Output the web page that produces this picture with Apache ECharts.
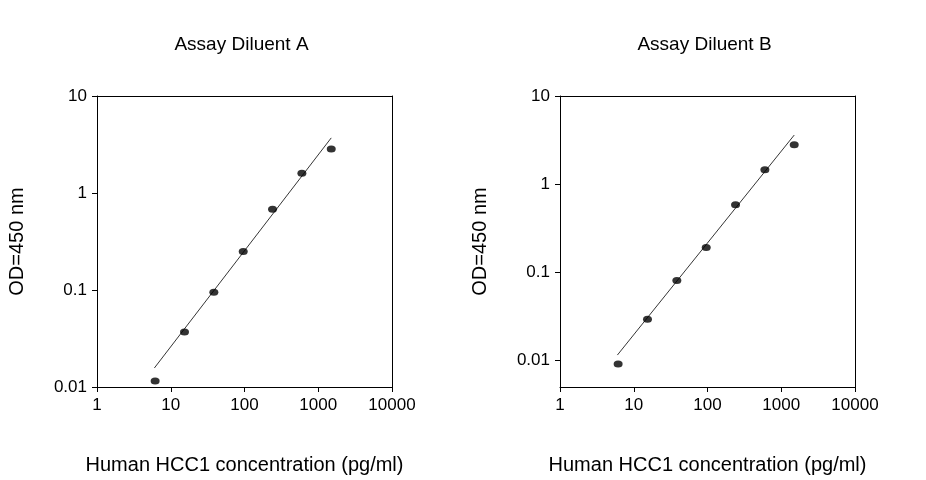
<!DOCTYPE html>
<html><head><meta charset="utf-8">
<script src="https://cdn.jsdelivr.net/npm/echarts@6/dist/echarts.min.js"></script>
<style>body{margin:0;background:#fff}#c{width:926px;height:480px}</style>
</head><body><div id="c"></div>
<script>
// concentrations (pg/ml)
const conc = [6.14, 15.36, 38.4, 96, 240, 600, 1500]
const odA = [0.0115, 0.037, 0.095, 0.25, 0.68, 1.6, 2.85]
const odB = [0.009, 0.029, 0.08, 0.19, 0.58, 1.45, 2.8]
// fitted line end points
const fitA = [[6, 0.0157], [1500, 3.7]]
const fitB = [[6, 0.0114], [1500, 3.6]]
const titles = ['Assay Diluent A', 'Assay Diluent B']
const xTicks = [1, 10, 100, 1000, 10000]
const yTicks = [0.01, 0.1, 1, 10]

const font = 'Liberation Sans, Arial, sans-serif'
const L = Math.log10
const grids = [
  { left: 97, top: 96, width: 295, height: 292 },
  { left: 560, top: 96, width: 295, height: 292 }
]
// y ranges in log10 (right panel's axis extends below 0.01)
const yMin = [-2, -2.306]
const axisLine = { show: true, onZero: false, lineStyle: { color: '#000', width: 1 } }
const lab = { color: '#000', fontSize: 17, fontFamily: font, margin: 10 }
const nameStyle = { color: '#000', fontSize: 20, fontFamily: font }
const xAxis = grids.map((g, i) => ({
  type: 'value', gridIndex: i, min: 0, max: 4,
  axisLine, axisTick: { show: true, length: 5, lineStyle: { color: '#000' }, customValues: xTicks.map(L) },
  splitLine: { show: false },
  axisLabel: Object.assign({}, lab, { customValues: xTicks.map(L), formatter: v => String(Math.round(Math.pow(10, v))) }),
  name: 'Human HCC1 concentration (pg/ml)', nameLocation: 'middle', nameGap: 68, nameTextStyle: nameStyle
}))
const yAxis = grids.map((g, i) => ({
  type: 'value', gridIndex: i, min: yMin[i], max: 1,
  axisLine, axisTick: { show: true, length: 5, lineStyle: { color: '#000' }, customValues: yTicks.map(L) },
  splitLine: { show: false },
  axisLabel: Object.assign({}, lab, { customValues: yTicks.map(L), formatter: v => String(+Math.pow(10, v).toPrecision(2)) }),
  name: 'OD=450 nm', nameLocation: 'middle', nameGap: 70, nameTextStyle: nameStyle
}))
// frame (top/right)
grids.forEach((g, i) => {
  xAxis.push({ type: 'value', gridIndex: i, position: 'top', min: 0, max: 4, axisLine,
    axisTick: { show: false }, axisLabel: { show: false }, splitLine: { show: false } })
  yAxis.push({ type: 'value', gridIndex: i, position: 'right', min: yMin[i], max: 1, axisLine,
    axisTick: { show: false }, axisLabel: { show: false }, splitLine: { show: false } })
})
const series = []
;[[odA, fitA], [odB, fitB]].forEach(([od, fit], i) => {
  series.push({ type: 'line', xAxisIndex: i, yAxisIndex: i, data: fit.map(p => [L(p[0]), L(p[1])]), symbol: 'none',
    lineStyle: { color: '#000', width: 0.8 }, silent: true })
  series.push({ type: 'scatter', xAxisIndex: i, yAxisIndex: i, symbolSize: [9, 7],
    itemStyle: { color: '#000' }, data: conc.map((c, k) => [L(c), L(od[k])]) })
})
const chart = echarts.init(document.getElementById('c'))
chart.setOption({
  animation: false,
  title: titles.map((t, i) => ({ text: t, left: grids[i].left + grids[i].width / 2 - 8, top: 30,
    textAlign: 'center', textStyle: { fontSize: 19, fontWeight: 'normal', color: '#000', fontFamily: font } })),
  grid: grids, xAxis, yAxis, series
})
</script></body></html>
